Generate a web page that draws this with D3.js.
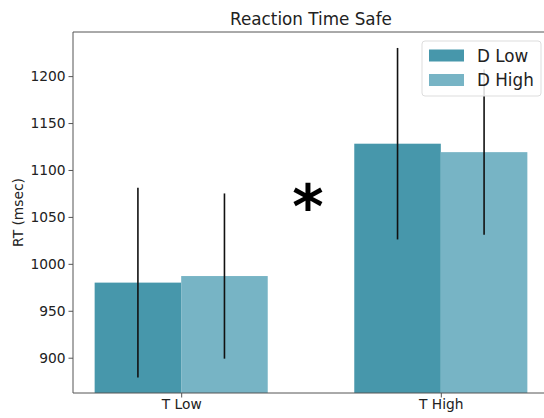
<!DOCTYPE html>
<html>
<head>
<meta charset="utf-8">
<script src="https://cdn.jsdelivr.net/npm/d3@7"></script>
<style>
  body { margin: 0; background: #fff; }
  svg { font-family: "DejaVu Sans", sans-serif; display: block; }
</style>
</head>
<body>
<div id="content"></div>
<script>
/* Data */
const categories = ["T Low", "T High"];
const series = ["D Low", "D High"];
const dLowMeans = [980, 1128];
const dHighMeans = [987, 1119];
const dLowErr = [101, 102];
const dHighErr = [88, 88];
const yTicks = [900, 950, 1000, 1050, 1100, 1150, 1200];

const WIDTH = 544;
const HEIGHT = 418;
const COLORS = {"D Low": "#4797ab", "D High": "#77b4c5"};
const BAR_W = 1 / 3;

const svg = d3.select("#content").append("svg")
    .attr("width", WIDTH).attr("height", HEIGHT);

const x = d3.scaleLinear().domain([-0.4167, 1.4167]).range([73, 549]);
const y = d3.scaleLinear().domain([862.4, 1247]).range([393, 32]);

//one row per bar
let rows = [];
categories.forEach((c, i) => {
    rows.push({cat: i, s: "D Low", off: -BAR_W / 2, v: dLowMeans[i], e: dLowErr[i]});
    rows.push({cat: i, s: "D High", off: BAR_W / 2, v: dHighMeans[i], e: dHighErr[i]});
});

svg.append("g").selectAll("rect")
    .data(rows).enter().append("rect")
    .attr("x", (d) => x(d.cat + d.off - BAR_W / 2))
    .attr("width", (d) => x(BAR_W) - x(0))
    .attr("y", (d) => y(d.v))
    .attr("height", (d) => y.range()[0] - y(d.v))
    .attr("fill", (d) => COLORS[d.s]);

svg.append("g").selectAll("line")
    .data(rows).enter().append("line")
    .attr("x1", (d) => x(d.cat + d.off))
    .attr("x2", (d) => x(d.cat + d.off))
    .attr("y1", (d) => y(d.v - d.e))
    .attr("y2", (d) => y(d.v + d.e))
    .attr("stroke", "#111").attr("stroke-width", 1.6);

// axes
const yAxis = svg.append("g").attr("transform", "translate(73,0)")
    .call(d3.axisLeft(y).tickValues(yTicks).tickFormat(d3.format("d"))
        .tickSize(4.5).tickPadding(3));
const xAxis = svg.append("g").attr("transform", "translate(0,393)")
    .call(d3.axisBottom(x).tickValues(categories.map((c, i) => i))
        .tickFormat((i) => categories[i]).tickSize(4.5).tickPadding(2));
[yAxis, xAxis].forEach((a) => {
    a.selectAll("text").attr("font-size", 13.8).attr("fill", "#222")
        .attr("font-family", "DejaVu Sans");
    a.selectAll("line").attr("stroke", "#555");
    a.select(".domain").attr("stroke", "#555");
});
yAxis.select(".domain").attr("d", "M0,32V393");
xAxis.select(".domain").attr("d", "M73,0H549");

// top spine
svg.append("line").attr("x1", 73).attr("x2", 549).attr("y1", 32).attr("y2", 32)
    .attr("stroke", "#555");

svg.append("text").attr("x", 311).attr("y", 25).attr("text-anchor", "middle")
    .attr("font-size", 16.8).attr("fill", "#222").text("Reaction Time Safe");

svg.append("text").attr("transform", "translate(23,212.5) rotate(-90)")
    .attr("text-anchor", "middle").attr("font-size", 13.8).attr("fill", "#222")
    .text("RT (msec)");

// significance star
svg.append("text").attr("x", 308).attr("y", 228).attr("text-anchor", "middle")
    .attr("font-size", 60).attr("font-weight", "bold").attr("fill", "#000").text("*");

// legend
const leg = svg.append("g").attr("transform", "translate(422,41)");
leg.append("rect").attr("width", 119).attr("height", 55).attr("rx", 3)
    .attr("fill", "#fff").attr("fill-opacity", 0.85).attr("stroke", "#ddd");
series.forEach((s, i) => {
    leg.append("rect").attr("x", 7).attr("y", 8.5 + i * 24.5)
        .attr("width", 35).attr("height", 12).attr("fill", COLORS[s]);
    leg.append("text").attr("x", 55).attr("y", 20.5 + i * 24.5)
        .attr("font-size", 16.8).attr("fill", "#222").text(s);
});
</script>
</body>
</html>
